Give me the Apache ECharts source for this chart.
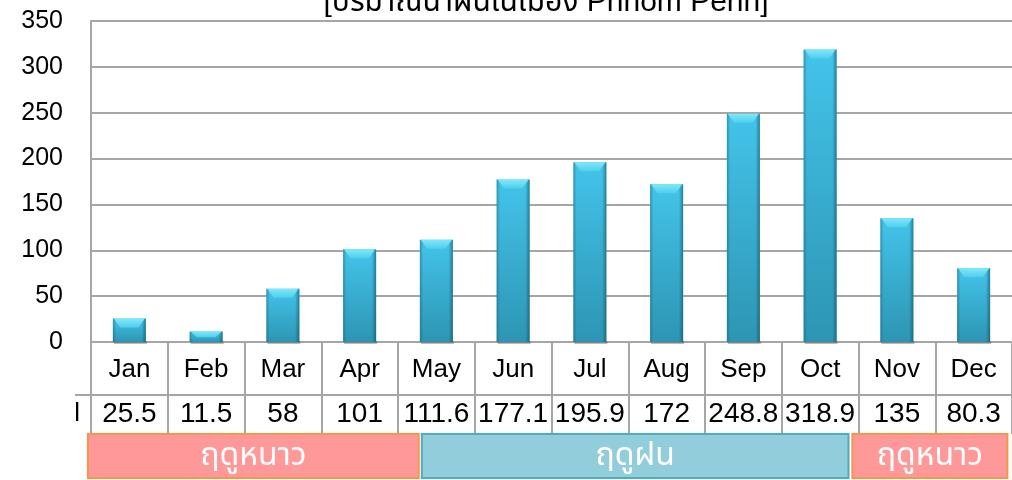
<!DOCTYPE html>
<html>
<head>
<meta charset="utf-8">
<script src="https://cdn.jsdelivr.net/npm/echarts@6/dist/echarts.min.js"></script>
<style>
html,body{margin:0;padding:0;background:#fff;}
#chart{width:1012px;height:480px;}
</style>
</head>
<body>
<div id="chart"></div>
<script>
const titleText = '[ปริมาณน้ำฝนในเมือง Phnom Penh]';
const months = ['Jan','Feb','Mar','Apr','May','Jun','Jul','Aug','Sep','Oct','Nov','Dec'];
const rainfall = [25.5, 11.5, 58, 101, 111.6, 177.1, 195.9, 172, 248.8, 318.9, 135, 80.3];
const valueLabels = ['25.5','11.5','58','101','111.6','177.1','195.9','172','248.8','318.9','135','80.3'];
const yMin = 0, yMax = 350, yStep = 50;
const seriesKey = 'l';
const seasonNames = ['ฤดูหนาว', 'ฤดูฝน', 'ฤดูหนาว'];

const FONT = "'Liberation Sans', 'Noto Sans Thai', 'Noto Sans', 'DejaVu Sans', sans-serif";
const GRID = {left: 91, top: 21, right: -3, bottom: 138};
const GRAY = '#A6A6A6';

const chart = echarts.init(document.getElementById('chart'), null, {renderer: 'canvas'});

function renderBar(params, api) {
  const idx = api.value(0);
  const v = api.value(1);
  const top = api.coord([idx, v]);
  const base = api.coord([idx, 0]);
  const w = api.size([1, 0])[0] * 0.43;
  const x0 = top[0] - w / 2;
  const ty = top[1];
  const h = base[1] - ty;
  const capH = Math.min(9, h * 0.55);
  const edge = Math.max(2, w * 0.1);
  return {
    type: 'group',
    children: [
      {type: 'rect', shape: {x: x0 + 1, y: base[1] - 1, width: w, height: 3},
       style: {fill: 'rgba(60,60,60,0.35)'}},
      {type: 'rect', shape: {x: x0, y: ty, width: w, height: h},
       style: {fill: new echarts.graphic.LinearGradient(0, 0, 0, 1, [
         {offset: 0, color: '#43C4EA'},
         {offset: 1, color: '#2D95B3'}
       ])}},
      {type: 'rect', shape: {x: x0, y: ty, width: edge, height: h},
       style: {fill: new echarts.graphic.LinearGradient(0, 0, 1, 0, [
         {offset: 0, color: 'rgba(20,80,100,0.4)'},
         {offset: 1, color: 'rgba(20,80,100,0)'}
       ])}},
      {type: 'rect', shape: {x: x0 + w - edge * 1.3, y: ty, width: edge * 1.3, height: h},
       style: {fill: new echarts.graphic.LinearGradient(0, 0, 1, 0, [
         {offset: 0, color: 'rgba(15,70,90,0)'},
         {offset: 1, color: 'rgba(15,70,90,0.55)'}
       ])}},
      {type: 'polygon', shape: {points: [
         [x0 + 1, ty], [x0 + w - 1, ty], [x0 + w * 0.78, ty + capH], [x0 + w * 0.22, ty + capH]
       ]},
       style: {fill: new echarts.graphic.LinearGradient(0, 0, 0, 1, [
         {offset: 0, color: '#80E8FA'},
         {offset: 1, color: '#4FCEEE'}
       ])}}
    ]
  };
}

const option = {
  animation: false,
  backgroundColor: '#ffffff',
  textStyle: {fontFamily: FONT},
  title: {
    text: titleText,
    left: 541,
    textAlign: 'center',
    top: -17,
    textStyle: {fontFamily: FONT, fontSize: 30, fontWeight: 'normal', color: '#000'}
  },
  grid: GRID,
  xAxis: [
    {
      type: 'category',
      data: months,
      position: 'bottom',
      boundaryGap: true,
      axisLine: {show: true, lineStyle: {color: GRAY, width: 2}},
      axisTick: {show: true, interval: 0, length: 92, lineStyle: {color: GRAY, width: 2}},
      axisLabel: {interval: 0, fontFamily: FONT, fontSize: 26, color: '#000', margin: 15},
      splitLine: {show: false}
    },
    {
      type: 'category',
      data: valueLabels,
      position: 'bottom',
      offset: 53,
      boundaryGap: true,
      axisLine: {show: true, lineStyle: {color: GRAY, width: 2}},
      axisTick: {show: false},
      axisLabel: {interval: 0, fontFamily: FONT, fontSize: 28, color: '#000', margin: 5},
      splitLine: {show: false}
    }
  ],
  yAxis: {
    type: 'value',
    min: yMin,
    max: yMax,
    interval: yStep,
    axisLine: {show: true, lineStyle: {color: GRAY, width: 2}},
    axisTick: {show: false},
    axisLabel: {fontFamily: FONT, fontSize: 25, color: '#000', margin: 28},
    splitLine: {show: true, lineStyle: {color: GRAY, width: 2}}
  },
  series: [
    {
      type: 'custom',
      xAxisIndex: 0,
      renderItem: renderBar,
      encode: {x: 0, y: 1},
      data: rainfall.map((v, i) => [i, v]),
      z: 3
    }
  ]
};
chart.setOption(option);

// Annotations below the table, laid out relative to the category cells
const x0px = chart.convertToPixel({xAxisIndex: 0}, months[0]);
const x1px = chart.convertToPixel({xAxisIndex: 0}, months[1]);
const cell = x1px - x0px;
const gridLeft = x0px - cell / 2;
const boxTop = 434, boxH = 44;
const seasonSpans = [[-0.04, 4.27], [4.31, 9.87], [9.92, 11.94]];
const seasonStyle = [
  {fill: '#FF9999', stroke: '#F79646'},
  {fill: '#92CDDC', stroke: '#4BACC6'},
  {fill: '#FF9999', stroke: '#F79646'}
];
const graphics = [];
seasonNames.forEach((name, i) => {
  const a = gridLeft + seasonSpans[i][0] * cell;
  const b = gridLeft + seasonSpans[i][1] * cell;
  graphics.push({
    type: 'rect', z: 10,
    shape: {x: a, y: boxTop, width: b - a, height: boxH},
    style: {fill: seasonStyle[i].fill, stroke: seasonStyle[i].stroke, lineWidth: 2}
  });
  graphics.push({
    type: 'text', z: 11,
    x: (a + b) / 2, y: boxTop + boxH / 2,
    style: {text: name, fill: '#ffffff', font: '32px ' + FONT, align: 'center', verticalAlign: 'middle'}
  });
});
graphics.push({
  type: 'line', z: 5,
  shape: {x1: gridLeft - 16, y1: 395, x2: gridLeft, y2: 395},
  style: {stroke: GRAY, lineWidth: 2}
});
graphics.push({
  type: 'text', z: 5,
  x: gridLeft - 11, y: 414,
  style: {text: seriesKey, fill: '#000', font: '26px ' + FONT, align: 'right', verticalAlign: 'middle'}
});
chart.setOption({graphic: graphics});
</script>
</body>
</html>
